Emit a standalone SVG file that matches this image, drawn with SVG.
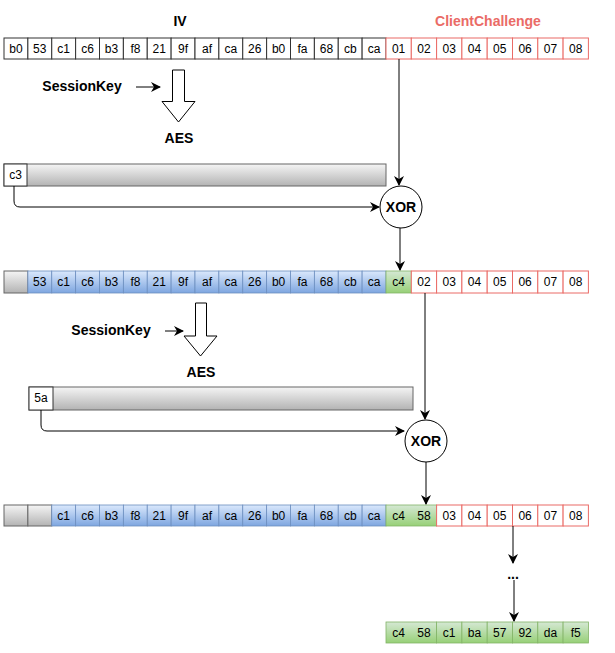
<svg xmlns="http://www.w3.org/2000/svg" width="615" height="653" viewBox="0 0 615 653">
<defs>
<linearGradient id="gb" x1="0" y1="0" x2="0" y2="1"><stop offset="0" stop-color="#dae8fc"/><stop offset="1" stop-color="#7ea6e0"/></linearGradient>
<linearGradient id="gg" x1="0" y1="0" x2="0" y2="1"><stop offset="0" stop-color="#d5e8d4"/><stop offset="1" stop-color="#97d077"/></linearGradient>
<linearGradient id="gy" x1="0" y1="0" x2="0" y2="1"><stop offset="0" stop-color="#f5f5f5"/><stop offset="1" stop-color="#b3b3b3"/></linearGradient>
<marker id="ar" viewBox="0 0 10 10" refX="9" refY="5" markerWidth="10" markerHeight="10" markerUnits="userSpaceOnUse" orient="auto"><path d="M0,0 L10,5 L0,10 L3,5 Z" fill="#000"/></marker>
</defs>
<style>
text{font-family:"Liberation Sans",Arial,sans-serif;font-size:12px;text-anchor:middle;fill:#000}
.lb{font-weight:bold;font-size:14px}
.w{fill:#fff;stroke:#333;stroke-width:1}
.r{fill:#fff;stroke:#ea6b66;stroke-width:1}
.b{fill:url(#gb);stroke:#6c8ebf;stroke-width:0.8}
.g{fill:url(#gg);stroke:#82b366;stroke-width:0.8}
.y{fill:url(#gy);stroke:#666;stroke-width:1}
.c{fill:none;stroke:#000;stroke-width:1}
</style>
<g id="labels">
<text class="lb" x="180" y="26">IV</text>
<text class="lb" x="488" y="26" style="fill:#ea6b66">ClientChallenge</text>
<text class="lb" x="82" y="91">SessionKey</text>
<text class="lb" x="179" y="143">AES</text>
<text class="lb" x="111" y="335">SessionKey</text>
<text class="lb" x="201" y="377">AES</text>
<text class="lb" x="513" y="579">...</text>
</g>
<g id="row1">
<g class="cells">
<rect class="w" x="4" y="38" width="23.875" height="21"/><rect class="w" x="27.875" y="38" width="23.875" height="21"/><rect class="w" x="51.75" y="38" width="23.875" height="21"/><rect class="w" x="75.625" y="38" width="23.875" height="21"/><rect class="w" x="99.5" y="38" width="23.875" height="21"/><rect class="w" x="123.375" y="38" width="23.875" height="21"/><rect class="w" x="147.25" y="38" width="23.875" height="21"/><rect class="w" x="171.125" y="38" width="23.875" height="21"/><rect class="w" x="195" y="38" width="23.875" height="21"/><rect class="w" x="218.875" y="38" width="23.875" height="21"/><rect class="w" x="242.75" y="38" width="23.875" height="21"/><rect class="w" x="266.625" y="38" width="23.875" height="21"/><rect class="w" x="290.5" y="38" width="23.875" height="21"/><rect class="w" x="314.375" y="38" width="23.875" height="21"/><rect class="w" x="338.25" y="38" width="23.875" height="21"/><rect class="w" x="362.125" y="38" width="23.875" height="21"/>
<rect class="r" x="386" y="38" width="25.3" height="21"/><rect class="r" x="411.3" y="38" width="25.3" height="21"/><rect class="r" x="436.6" y="38" width="25.3" height="21"/><rect class="r" x="461.9" y="38" width="25.3" height="21"/><rect class="r" x="487.2" y="38" width="25.3" height="21"/><rect class="r" x="512.5" y="38" width="25.3" height="21"/><rect class="r" x="537.8" y="38" width="25.3" height="21"/><rect class="r" x="563.1" y="38" width="25.3" height="21"/>
</g>
<text x="15.9" y="53">b0</text><text x="39.8" y="53">53</text><text x="63.7" y="53">c1</text><text x="87.6" y="53">c6</text><text x="111.5" y="53">b3</text><text x="135.4" y="53">f8</text><text x="159.3" y="53">21</text><text x="183.1" y="53">9f</text><text x="207" y="53">af</text><text x="230.9" y="53">ca</text><text x="254.8" y="53">26</text><text x="278.6" y="53">b0</text><text x="302.5" y="53">fa</text><text x="326.4" y="53">68</text><text x="350.3" y="53">cb</text><text x="374.2" y="53">ca</text>
<text x="398.6" y="53">01</text><text x="423.9" y="53">02</text><text x="449.2" y="53">03</text><text x="474.5" y="53">04</text><text x="499.8" y="53">05</text><text x="525.1" y="53">06</text><text x="550.4" y="53">07</text><text x="575.7" y="53">08</text>
</g>
<g id="aes1">
<path d="M172.5,70 H184.5 V101.5 H195 L178.5,122 L162,101.5 H172.5 Z" fill="#fff" stroke="#000"/>
</g>
<g id="enc1">
<rect class="y" x="4" y="164" width="382" height="22"/>
<rect class="w" x="4" y="164" width="23" height="22"/>
<text x="15.5" y="179">c3</text>
</g>
<g id="xor1"><circle cx="401" cy="207" r="21" fill="#fff" stroke="#000"/><text class="lb" x="401" y="212">XOR</text></g>
<g id="row2">
<rect class="y" x="4" y="271" width="23.875" height="22"/>
<rect class="b" x="27.875" y="271" width="23.875" height="22"/><rect class="b" x="51.75" y="271" width="23.875" height="22"/><rect class="b" x="75.625" y="271" width="23.875" height="22"/><rect class="b" x="99.5" y="271" width="23.875" height="22"/><rect class="b" x="123.375" y="271" width="23.875" height="22"/><rect class="b" x="147.25" y="271" width="23.875" height="22"/><rect class="b" x="171.125" y="271" width="23.875" height="22"/><rect class="b" x="195" y="271" width="23.875" height="22"/><rect class="b" x="218.875" y="271" width="23.875" height="22"/><rect class="b" x="242.75" y="271" width="23.875" height="22"/><rect class="b" x="266.625" y="271" width="23.875" height="22"/><rect class="b" x="290.5" y="271" width="23.875" height="22"/><rect class="b" x="314.375" y="271" width="23.875" height="22"/><rect class="b" x="338.25" y="271" width="23.875" height="22"/><rect class="b" x="362.125" y="271" width="23.875" height="22"/>
<rect class="g" x="386" y="271" width="25.3" height="22"/>
<rect class="r" x="411.3" y="271" width="25.3" height="22"/><rect class="r" x="436.6" y="271" width="25.3" height="22"/><rect class="r" x="461.9" y="271" width="25.3" height="22"/><rect class="r" x="487.2" y="271" width="25.3" height="22"/><rect class="r" x="512.5" y="271" width="25.3" height="22"/><rect class="r" x="537.8" y="271" width="25.3" height="22"/><rect class="r" x="563.1" y="271" width="25.3" height="22"/>
<text x="39.8" y="286">53</text><text x="63.7" y="286">c1</text><text x="87.6" y="286">c6</text><text x="111.5" y="286">b3</text><text x="135.4" y="286">f8</text><text x="159.3" y="286">21</text><text x="183.1" y="286">9f</text><text x="207" y="286">af</text><text x="230.9" y="286">ca</text><text x="254.8" y="286">26</text><text x="278.6" y="286">b0</text><text x="302.5" y="286">fa</text><text x="326.4" y="286">68</text><text x="350.3" y="286">cb</text><text x="374.2" y="286">ca</text>
<text x="398.6" y="286">c4</text><text x="423.9" y="286">02</text><text x="449.2" y="286">03</text><text x="474.5" y="286">04</text><text x="499.8" y="286">05</text><text x="525.1" y="286">06</text><text x="550.4" y="286">07</text><text x="575.7" y="286">08</text>
</g>
<g id="aes2">
<path d="M195.5,303 H206.5 V336 H217 L200.5,356 L184,336 H195.5 Z" fill="#fff" stroke="#000"/>
</g>
<g id="enc2">
<rect class="y" x="29" y="387" width="384" height="23"/>
<rect class="w" x="29" y="387" width="24" height="23"/>
<text x="41" y="402">5a</text>
</g>
<g id="xor2"><circle cx="426" cy="441" r="21" fill="#fff" stroke="#000"/><text class="lb" x="426" y="446">XOR</text></g>
<g id="row3">
<rect class="y" x="4" y="505" width="23.875" height="21"/><rect class="y" x="27.875" y="505" width="23.875" height="21"/>
<rect class="b" x="51.75" y="505" width="23.875" height="21"/><rect class="b" x="75.625" y="505" width="23.875" height="21"/><rect class="b" x="99.5" y="505" width="23.875" height="21"/><rect class="b" x="123.375" y="505" width="23.875" height="21"/><rect class="b" x="147.25" y="505" width="23.875" height="21"/><rect class="b" x="171.125" y="505" width="23.875" height="21"/><rect class="b" x="195" y="505" width="23.875" height="21"/><rect class="b" x="218.875" y="505" width="23.875" height="21"/><rect class="b" x="242.75" y="505" width="23.875" height="21"/><rect class="b" x="266.625" y="505" width="23.875" height="21"/><rect class="b" x="290.5" y="505" width="23.875" height="21"/><rect class="b" x="314.375" y="505" width="23.875" height="21"/><rect class="b" x="338.25" y="505" width="23.875" height="21"/><rect class="b" x="362.125" y="505" width="23.875" height="21"/>
<rect class="g" x="386" y="505" width="50.6" height="21"/>
<rect class="r" x="436.6" y="505" width="25.3" height="21"/><rect class="r" x="461.9" y="505" width="25.3" height="21"/><rect class="r" x="487.2" y="505" width="25.3" height="21"/><rect class="r" x="512.5" y="505" width="25.3" height="21"/><rect class="r" x="537.8" y="505" width="25.3" height="21"/><rect class="r" x="563.1" y="505" width="25.3" height="21"/>
<text x="63.7" y="520">c1</text><text x="87.6" y="520">c6</text><text x="111.5" y="520">b3</text><text x="135.4" y="520">f8</text><text x="159.3" y="520">21</text><text x="183.1" y="520">9f</text><text x="207" y="520">af</text><text x="230.9" y="520">ca</text><text x="254.8" y="520">26</text><text x="278.6" y="520">b0</text><text x="302.5" y="520">fa</text><text x="326.4" y="520">68</text><text x="350.3" y="520">cb</text><text x="374.2" y="520">ca</text>
<text x="398.6" y="520">c4</text><text x="423.9" y="520">58</text><text x="449.2" y="520">03</text><text x="474.5" y="520">04</text><text x="499.8" y="520">05</text><text x="525.1" y="520">06</text><text x="550.4" y="520">07</text><text x="575.7" y="520">08</text>
</g>
<g id="row4">
<rect class="g" x="386" y="622" width="50.6" height="21"/><rect class="g" x="436.6" y="622" width="25.3" height="21"/><rect class="g" x="461.9" y="622" width="25.3" height="21"/><rect class="g" x="487.2" y="622" width="25.3" height="21"/><rect class="g" x="512.5" y="622" width="25.3" height="21"/><rect class="g" x="537.8" y="622" width="25.3" height="21"/><rect class="g" x="563.1" y="622" width="25.3" height="21"/>
<text x="398.6" y="637">c4</text><text x="423.9" y="637">58</text><text x="449.2" y="637">c1</text><text x="474.5" y="637">ba</text><text x="499.8" y="637">57</text><text x="525.1" y="637">92</text><text x="550.4" y="637">da</text><text x="575.7" y="637">f5</text>
</g>
<g id="connectors">
<path class="c" d="M136,87 H160" marker-end="url(#ar)"/>
<path class="c" d="M165,331 H183" marker-end="url(#ar)"/>
<path class="c" d="M399,59 V185" marker-end="url(#ar)"/>
<path class="c" d="M14,186 V201 Q14,207 20,207 H379" marker-end="url(#ar)"/>
<path class="c" d="M400,228 V270" marker-end="url(#ar)"/>
<path class="c" d="M425,293 V419" marker-end="url(#ar)"/>
<path class="c" d="M41,410 V425 Q41,431 47,431 H404" marker-end="url(#ar)"/>
<path class="c" d="M426,462 V504" marker-end="url(#ar)"/>
<path class="c" d="M513,526 V563" marker-end="url(#ar)"/>
<path class="c" d="M514,580 V621" marker-end="url(#ar)"/>
</g>
</svg>
